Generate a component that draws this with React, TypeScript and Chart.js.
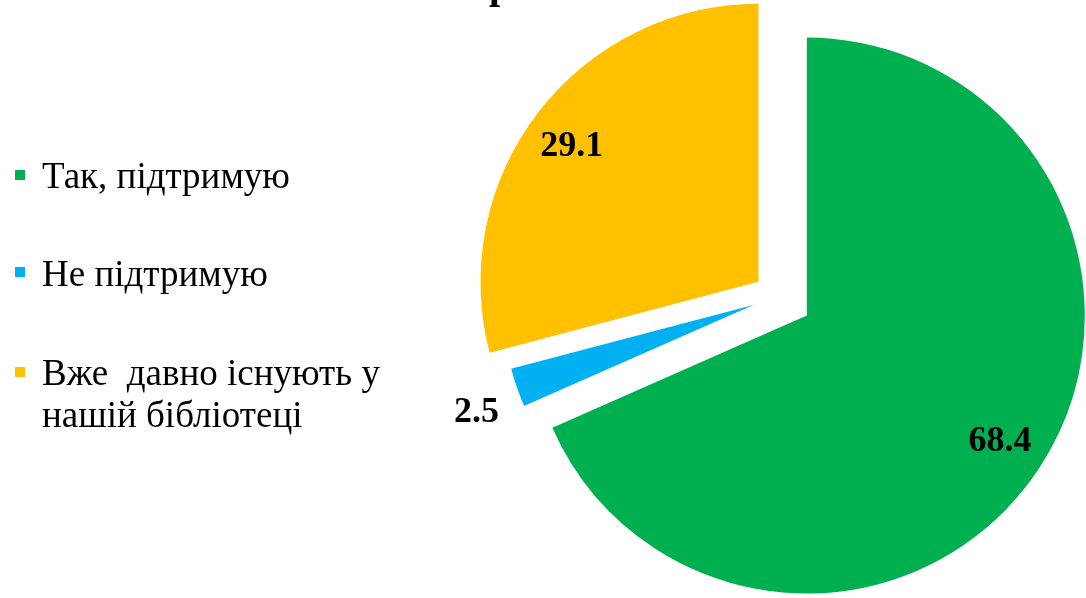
import React, { useEffect, useRef } from 'react';
import { Chart, registerables } from 'chart.js';

Chart.register(...registerables);

const categories = ['Так, підтримую', 'Не підтримую', 'Вже  давно існують у нашій бібліотеці'];
const legendLines = [['Так, підтримую'], ['Не підтримую'], ['Вже  давно існують у', 'нашій бібліотеці']];
const values = [68.4, 2.5, 29.1];
const colors = ['#00B050', '#00B0F0', '#FFC000'];
const explode = [35, 0, 24];
const sliceBorder = [0, 4, 0];
const labelRadius = [0.83, 1.16, 0.83];
const labelAngleNudgeDeg = [0, -1.8, -1.7];
const titleFragment = 'р';

const legendSquareY = [175, 272, 372];
const legendTextY = [[178], [276], [375, 417]];

const explodePlugin = {
  id: 'explodePie',
  beforeDatasetDraw(chart: any, args: any) {
    const ctx = chart.ctx;
    args.meta.data.forEach((arc: any, i: number) => {
      const mid = (arc.startAngle + arc.endAngle) / 2;
      const d = explode[i] || 0;
      ctx.save();
      ctx.translate(Math.cos(mid) * d, Math.sin(mid) * d);
      arc.draw(ctx);
      ctx.restore();
    });
    return false;
  },
  afterDatasetsDraw(chart: any) {
    const ctx = chart.ctx;
    const meta = chart.getDatasetMeta(0);
    ctx.save();
    ctx.fillStyle = '#000';
    ctx.font = 'bold 36px "Liberation Serif", "Times New Roman", serif';
    ctx.textAlign = 'center';
    ctx.textBaseline = 'middle';
    meta.data.forEach((arc: any, i: number) => {
      const mid = (arc.startAngle + arc.endAngle) / 2;
      const ang = mid + (labelAngleNudgeDeg[i] * Math.PI) / 180;
      const cx = arc.x + Math.cos(mid) * explode[i];
      const cy = arc.y + Math.sin(mid) * explode[i];
      const r = arc.outerRadius * labelRadius[i];
      ctx.fillText(values[i].toFixed(1), cx + Math.cos(ang) * r, cy + Math.sin(ang) * r);
    });
    ctx.restore();
  },
  afterDraw(chart: any) {
    const ctx = chart.ctx;
    ctx.save();
    ctx.font = '37px "Liberation Serif", "Times New Roman", serif';
    ctx.textAlign = 'left';
    ctx.textBaseline = 'middle';
    legendLines.forEach((lines, i) => {
      ctx.fillStyle = colors[i];
      ctx.fillRect(15, legendSquareY[i] - 5, 10, 10);
      ctx.fillStyle = '#000';
      lines.forEach((line, j) => {
        ctx.fillText(line, 42, legendTextY[i][j]);
      });
    });
    ctx.font = 'bold 40px "Liberation Serif", "Times New Roman", serif';
    ctx.textBaseline = 'alphabetic';
    ctx.fillText(titleFragment, 489, -2);
    ctx.restore();
  },
};

export default function App() {
  const ref = useRef<HTMLCanvasElement | null>(null);
  useEffect(() => {
    document.body.style.margin = '0';
    const canvas = ref.current;
    if (!canvas) return;
    const chart = new Chart(canvas, {
      type: 'pie',
      data: {
        labels: categories,
        datasets: [
          {
            data: values,
            backgroundColor: colors,
            borderColor: '#ffffff',
            borderWidth: sliceBorder,
            borderJoinStyle: 'bevel',
            radius: 278,
          } as any,
        ],
      },
      options: {
        animation: false,
        responsive: false,
        devicePixelRatio: 1,
        layout: { padding: { left: 469, right: 0, top: 0, bottom: 5 } },
        plugins: {
          legend: { display: false },
          tooltip: { enabled: false },
          title: { display: false },
        },
      },
      plugins: [explodePlugin],
    });
    return () => chart.destroy();
  }, []);
  return (
    <div style={{ position: 'absolute', left: 0, top: 0, width: 1086, height: 598, background: '#fff' }}>
      <canvas ref={ref} width={1086} height={598} />
    </div>
  );
}
